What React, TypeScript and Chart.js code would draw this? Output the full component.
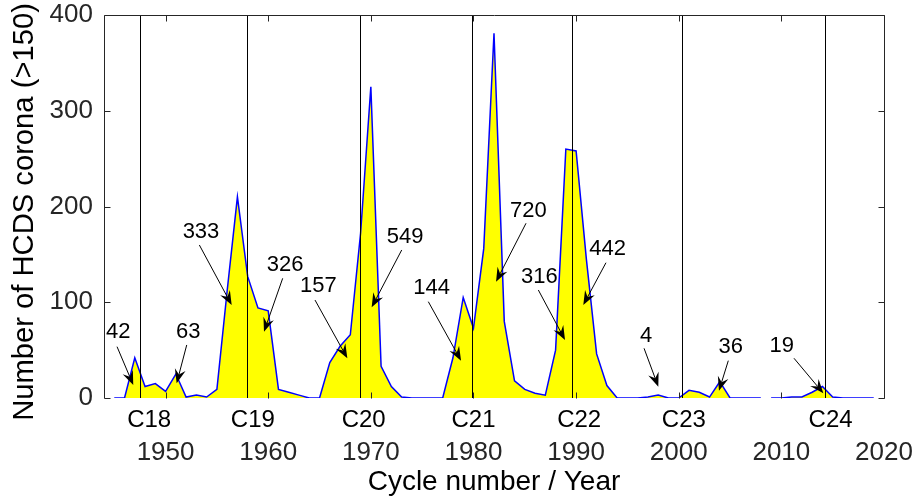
import { useEffect, useRef } from "react"
import { Chart, registerables } from "chart.js"

Chart.register(...registerables)

const FONT = "'Liberation Sans', Arial, sans-serif"

// yearly counts of halo CMEs (null = gap in the record)
const years = [
  1945, 1946, 1947, 1948, 1949, 1950, 1951, 1952, 1953, 1954,
  1955, 1956, 1957, 1958, 1959, 1960, 1961, 1962, 1963, 1964,
  1965, 1966, 1967, 1968, 1969, 1970, 1971, 1972, 1973, 1974,
  1975, 1976, 1977, 1978, 1979, 1980, 1981, 1982, 1983, 1984,
  1985, 1986, 1987, 1988, 1989, 1990, 1991, 1992, 1993, 1994,
  1995, 1996, 1997, 1998, 1999, 2000, 2001, 2002, 2003, 2004,
  2005, 2006, 2007, 2008, 2008.5, 2009, 2010, 2011, 2012, 2013,
  2014, 2015, 2016, 2017, 2018, 2019,
]
const counts = [
  0, 0, 42, 12, 15, 7, 25, 1, 3, 1,
  9, 112, 210, 127, 94, 91, 9, 6, 3, 0,
  0, 37, 54, 66, 172, 325, 33, 12, 1, 0,
  0, 0, 0, 42, 105, 73, 156, 381, 80, 18,
  9, 5, 3, 50, 260, 258, 145, 46, 13, 0,
  0, 0, 1, 3, 0, 0, 8, 6, 1, 17,
  0, 0, 0, 0, null, 0, 0, 1, 1, 6,
  12, 1, 0, 0, 0, 0,
]

const yearTicks = [1950, 1960, 1970, 1980, 1990, 2000, 2010, 2020]
const countTicks = [0, 100, 200, 300, 400]

// cycle maxima (vertical lines) and cycle labels
const cycleNames = ["C18", "C19", "C20", "C21", "C22", "C23", "C24"]
const cycleMaxYears = [1947.5, 1957.9, 1968.9, 1979.9, 1989.6, 2000.3, 2014.3]
const cycleLabelYears = [1948.4, 1958.5, 1969.3, 1980.0, 1990.3, 2000.5, 2014.8]

// phase totals with arrow: [label, textYear, textValue, fromYear, fromValue, tipYear, tipValue]
const callouts: Array<[string, number, number, number, number, number, number]> = [
  ["42", 1945.39, 69.2, 1945.27, 53.6, 1946.85, 13.6],
  ["63", 1952.21, 69.2, 1952.06, 55.4, 1951.08, 15.4],
  ["333", 1953.45, 173.7, 1953.29, 159.8, 1956.44, 97.1],
  ["326", 1961.64, 138.9, 1961.41, 125.0, 1959.59, 69.2],
  ["157", 1964.88, 117.0, 1964.56, 102.3, 1967.71, 41.5],
  ["549", 1973.33, 168.5, 1973.01, 154.6, 1970.08, 94.7],
  ["144", 1975.93, 114.6, 1975.6, 100.6, 1978.79, 39.0],
  ["720", 1985.34, 195.6, 1985.12, 182.5, 1982.2, 121.5],
  ["316", 1986.41, 126.7, 1986.32, 112.8, 1988.92, 60.6],
  ["442", 1993.08, 155.3, 1992.91, 141.3, 1990.7, 97.1],
  ["4", 1996.81, 64.8, 1996.62, 51.9, 1998.01, 11.8],
  ["36", 2005.06, 53.6, 2004.83, 39.0, 2003.92, 7.6],
  ["19", 2010.03, 54.6, 2011.23, 41.5, 2014.09, 4.9],
]

const decorPlugin = {
  id: "decor",
  afterDatasetsDraw(chart: any) {
    const { ctx, chartArea: a, scales } = chart
    const x = scales.x
    const y = scales.y
    ctx.save()

    // cycle max lines
    ctx.strokeStyle = "#000"
    ctx.lineWidth = 1
    cycleMaxYears.forEach((yr) => {
      const px = Math.round(x.getPixelForValue(yr)) + 0.5
      ctx.beginPath()
      ctx.moveTo(px, a.top)
      ctx.lineTo(px, a.bottom)
      ctx.stroke()
    })

    // box + inward ticks
    ctx.strokeStyle = "#262626"
    ctx.lineWidth = 1
    const L = Math.round(a.left) + 0.5
    const R = Math.round(a.right) + 0.5
    const T = Math.round(a.top) + 0.5
    const B = Math.round(a.bottom) + 0.5
    ctx.beginPath()
    ctx.moveTo(L, B)
    ctx.lineTo(L, T)
    ctx.lineTo(R, T)
    ctx.lineTo(R, B)
    ctx.stroke()
    const tl = 6
    ctx.beginPath()
    yearTicks.forEach((yr) => {
      const px = Math.round(x.getPixelForValue(yr)) + 0.5
      ctx.moveTo(px, T)
      ctx.lineTo(px, T + tl)
      ctx.moveTo(px, B)
      ctx.lineTo(px, B - tl)
    })
    countTicks.forEach((v) => {
      const py = Math.round(y.getPixelForValue(v)) + 0.5
      ctx.moveTo(L, py)
      ctx.lineTo(L + tl, py)
      ctx.moveTo(R, py)
      ctx.lineTo(R - tl, py)
    })
    ctx.stroke()

    // callouts
    ctx.fillStyle = "#000"
    ctx.strokeStyle = "#000"
    ctx.font = `22px ${FONT}`
    ctx.textAlign = "center"
    ctx.textBaseline = "middle"
    callouts.forEach(([label, tx, tv, fx, fv, px, pv]) => {
      ctx.fillText(label, x.getPixelForValue(tx), y.getPixelForValue(tv))
      const sx = x.getPixelForValue(fx)
      const sy = y.getPixelForValue(fv)
      const ex = x.getPixelForValue(px)
      const ey = y.getPixelForValue(pv)
      const dx = ex - sx
      const dy = ey - sy
      const len = Math.hypot(dx, dy)
      const ux = dx / len
      const uy = dy / len
      const nx = -uy
      const ny = ux
      const head = 14
      const half = 5.5
      const notch = 9
      ctx.lineWidth = 1
      ctx.beginPath()
      ctx.moveTo(sx, sy)
      ctx.lineTo(ex - ux * notch, ey - uy * notch)
      ctx.stroke()
      ctx.beginPath()
      ctx.moveTo(ex, ey)
      ctx.lineTo(ex - ux * head + nx * half, ey - uy * head + ny * half)
      ctx.lineTo(ex - ux * notch, ey - uy * notch)
      ctx.lineTo(ex - ux * head - nx * half, ey - uy * head - ny * half)
      ctx.closePath()
      ctx.fill()
    })

    // cycle labels under the axis
    ctx.font = `24px ${FONT}`
    ctx.fillStyle = "#000"
    cycleNames.forEach((name, i) => {
      ctx.fillText(name, x.getPixelForValue(cycleLabelYears[i]), a.bottom + 22)
    })

    // y axis title (a bit below the axis centre, like the original)
    ctx.font = `29.2px ${FONT}`
    ctx.translate(24.8, (a.top + a.bottom) / 2 + 5.5)
    ctx.rotate(-Math.PI / 2)
    ctx.fillText("Number of HCDS corona (>150)", 0, 0)
    ctx.restore()
  },
}

export default function App() {
  const canvasRef = useRef<HTMLCanvasElement>(null)
  const chartRef = useRef<Chart | null>(null)

  useEffect(() => {
    if (!canvasRef.current) return
    if (chartRef.current) chartRef.current.destroy()

    const points = years.map((yr, i) => ({ x: yr, y: counts[i] }))

    chartRef.current = new Chart(canvasRef.current, {
      type: "line",
      data: {
        datasets: [
          {
            data: points as any,
            borderColor: "#0000ff",
            borderWidth: 1.5,
            backgroundColor: "#ffff00",
            fill: "origin",
            pointRadius: 0,
            tension: 0,
            spanGaps: false,
          },
        ],
      },
      options: {
        animation: false,
        responsive: true,
        maintainAspectRatio: false,
        layout: { padding: { left: 0, top: 15, right: 33, bottom: 0 } },
        plugins: {
          legend: { display: false },
          tooltip: { enabled: false },
        },
        scales: {
          x: {
            type: "linear",
            min: 1944,
            max: 2020,
            grid: { display: false, drawTicks: false },
            border: { display: false },
            afterBuildTicks: (scale: any) => {
              scale.ticks = yearTicks.map((v) => ({ value: v }))
            },
            afterFit: (scale: any) => {
              scale.height = 105
              scale.paddingLeft = 0
              scale.paddingRight = 0
              scale.paddingTop = 0
              scale.paddingBottom = 0
            },
            ticks: {
              autoSkip: false,
              maxRotation: 0,
              padding: 42,
              color: "#262626",
              font: { family: FONT, size: 26, lineHeight: 1 },
              callback: (v: any) => String(v),
            },
            title: {
              display: true,
              text: "Cycle number / Year",
              color: "#000",
              font: { family: FONT, size: 28, lineHeight: 1 },
              padding: { top: 0, bottom: 6.5 },
            },
          },
          y: {
            min: 0,
            max: 400,
            grid: { display: false, drawTicks: false },
            border: { display: false },
            afterBuildTicks: (scale: any) => {
              scale.ticks = countTicks.map((v) => ({ value: v }))
            },
            afterFit: (scale: any) => {
              scale.width = 104
              scale.paddingLeft = 0
              scale.paddingRight = 0
              scale.paddingTop = 0
              scale.paddingBottom = 0
            },
            ticks: {
              padding: 11,
              color: "#262626",
              font: { family: FONT, size: 26, lineHeight: 1 },
            },
          },
        },
      },
      plugins: [decorPlugin],
    })

    return () => {
      if (chartRef.current) {
        chartRef.current.destroy()
        chartRef.current = null
      }
    }
  }, [])

  return (
    <div style={{ position: "absolute", left: 0, top: 0, width: 917, height: 503, background: "#fff" }}>
      <canvas ref={canvasRef} />
    </div>
  )
}
